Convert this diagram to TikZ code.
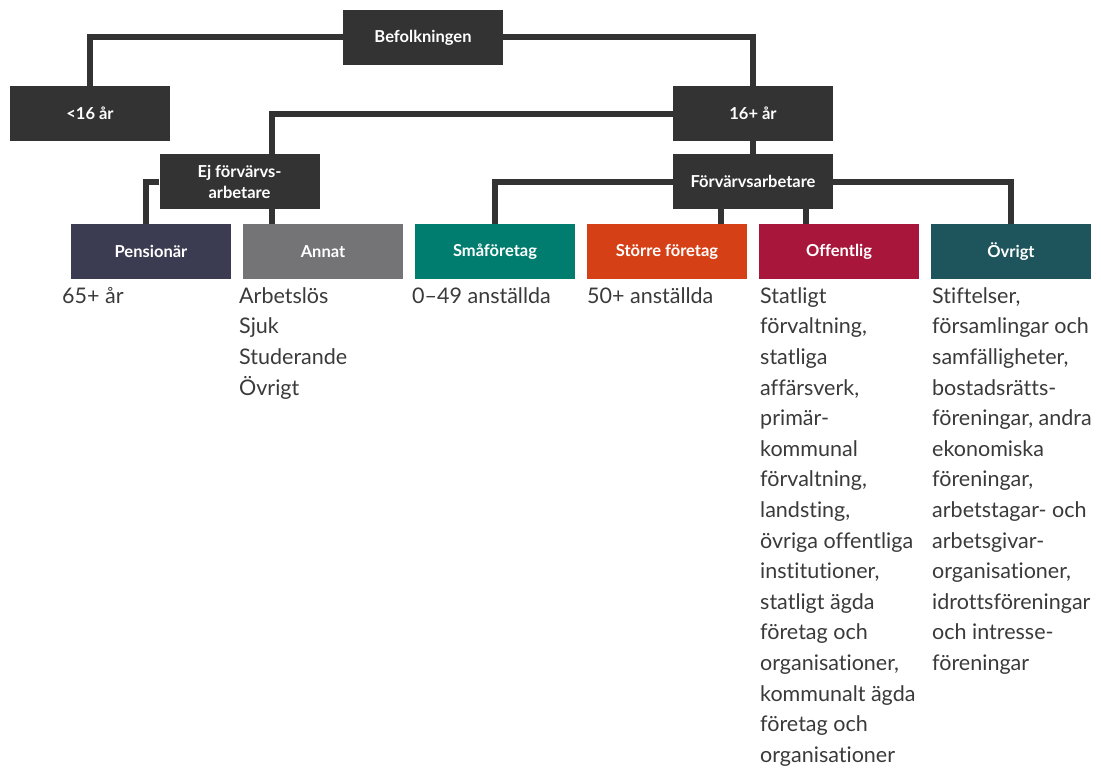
\documentclass[tikz,border=0pt]{standalone}
\usepackage{fontspec}
\setmainfont{Lato}[Ligatures=NoCommon]
\usepackage{tikz}
\usetikzlibrary{positioning}

\definecolor{boxdark}{HTML}{333333}
\definecolor{wirecol}{HTML}{333333}
\definecolor{desccol}{HTML}{3A3A3A}
\definecolor{pensblue}{HTML}{3B3B52}
\definecolor{annatgray}{HTML}{747476}
\definecolor{smateal}{HTML}{007D6E}
\definecolor{storreorange}{HTML}{D64016}
\definecolor{offred}{HTML}{A8173B}
\definecolor{ovrteal}{HTML}{1E555C}

\newcommand{\boxfont}{\fontsize{16.5}{21}\selectfont\bfseries}
\newcommand{\descfont}{\fontsize{21.5}{30.6}\selectfont}

\begin{document}
\begin{tikzpicture}[x=1pt,y=-1pt,
    box/.style={fill=#1, text=white, minimum width=160pt, minimum height=55pt,
      inner sep=0pt, font=\boxfont, align=center},
    box/.default=boxdark,
    wire/.style={draw=wirecol, line width=6pt},
    desc/.style={anchor=north west, inner sep=0pt, align=left,
      font=\descfont, text=desccol}]
    \useasboundingbox (0,0) rectangle (1101,768);

    % top levels
    \node[box] (befolk) at (423,37.5) {Befolkningen};
    \node[box] (lt16) at (90,113.5) {<16 år};
    \node[box] (ge16) at (753,113.5) {16+ år};
    \node[box] (ejf) at (239.5,181.5) {Ej förvärvs-\\arbetare};
    \node[box] (forv) at (753,181.5) {Förvärvsarbetare};

    % bottom row
    \node[box=pensblue] (pens) at (151,251.5) {Pensionär};
    \node[box=annatgray] (annat) at (323,251.5) {Annat};
    \node[box=smateal] (sma) at (495,251.5) {Småföretag};
    \node[box=storreorange] (storre) at (667,251.5) {Större företag};
    \node[box=offred] (off) at (839,251.5) {Offentlig};
    \node[box=ovrteal] (ovr) at (1011,251.5) {Övrigt};

    % connectors
    \draw[wire] (befolk.west) -| (lt16.north);
    \draw[wire] (befolk.east) -| (ge16.north);
    \draw[wire] (ge16.west) -| ([xshift=32]ejf.north);
    \draw[wire] (ge16) -- (forv);
    \draw[wire] (ejf.west) -| ([xshift=-5]pens.north);
    \draw[wire] ([xshift=32]ejf.south) -- ([xshift=32]ejf.south |- annat.north);
    \draw[wire] (forv.west) -| (sma.north);
    \draw[wire] ([xshift=-32]forv.south) -- ([xshift=-32]forv.south |- storre.north);
    \draw[wire] ([xshift=53]forv.south) -- ([xshift=53]forv.south |- off.north);
    \draw[wire] (forv.east) -| (ovr.north);

    % descriptions
    \node[desc] (pensTxt) at (62,281.6) {\strut 65+ år};
    \node[desc] (annatTxt) at (239,281.6) {\strut Arbetslös\\Sjuk\\Studerande\\Övrigt};
    \node[desc] (smaTxt) at (412,281.6) {\strut 0–49 anställda};
    \node[desc] (storreTxt) at (587,281.6) {\strut 50+ anställda};
    \node[desc] (offTxt) at (760,281.6) {\strut Statligt\\förvaltning,\\statliga\\affärsverk,\\primär-\\kommunal\\förvaltning,\\landsting,\\övriga offentliga\\institutioner,\\statligt ägda\\företag och\\organisationer,\\kommunalt ägda\\företag och\\organisationer};
    \node[desc] (ovrTxt) at (932,281.6) {\strut Stiftelser,\\församlingar och\\samfälligheter,\\bostadsrätts-\\föreningar, andra\\ekonomiska\\föreningar,\\arbetstagar- och\\arbetsgivar-\\organisationer,\\idrottsföreningar\\och intresse-\\föreningar};
\end{tikzpicture}
\end{document}
